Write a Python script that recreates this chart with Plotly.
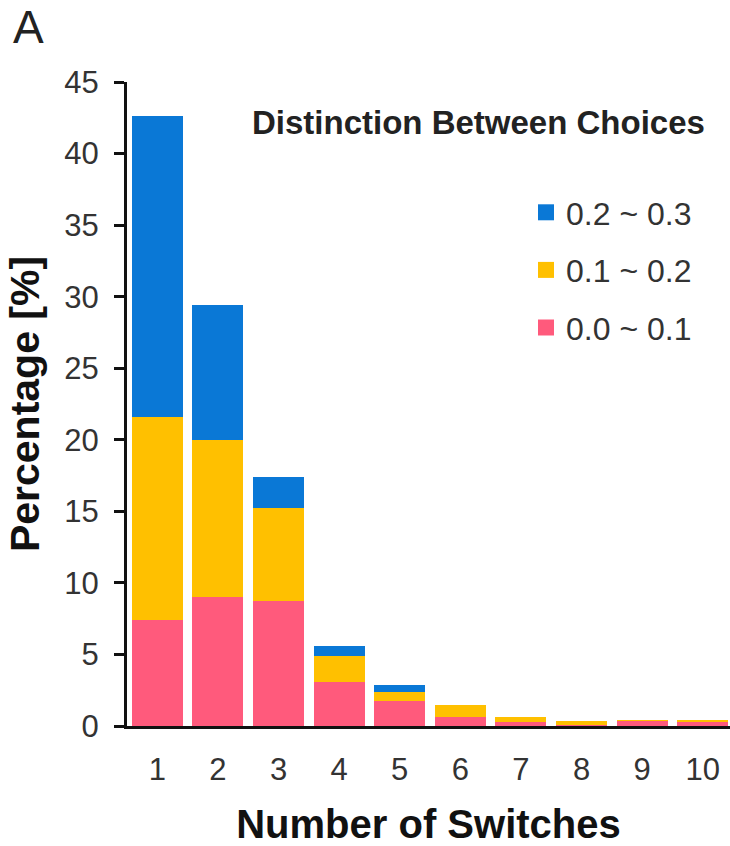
import plotly.graph_objects as go

# Distribution of the number of switches, split by how distinct the two choices were
switches = [1, 2, 3, 4, 5, 6, 7, 8, 9, 10]
tick_labels = ["1", "2", "3", "4", "5", "6", "7", "8", "9", "10"]

pct_low = [7.4, 9.0, 8.75, 3.05, 1.75, 0.6, 0.3, 0.1, 0.35, 0.3]     # 0.0 ~ 0.1
pct_mid = [14.2, 11.0, 6.45, 1.85, 0.65, 0.87, 0.3, 0.25, 0.05, 0.05]  # 0.1 ~ 0.2
pct_high = [21.0, 9.4, 2.2, 0.7, 0.47, 0.0, 0.0, 0.0, 0.0, 0.0]      # 0.2 ~ 0.3

series_names = ["0.0 ~ 0.1", "0.1 ~ 0.2", "0.2 ~ 0.3"]
series_colors = ["#FF5A7C", "#FFC000", "#0A78D6"]

W, H = 730, 846
M_L, M_R, M_T, M_B = 127, 0, 82, 120
FONT = "Liberation Sans, Arial, sans-serif"


def px_x(px):
    return (px - M_L) / (W - M_L - M_R)


def px_y(py):
    return (H - M_B - py) / (H - M_T - M_B)


fig = go.Figure()

for name, vals, color in zip(series_names, [pct_low, pct_mid, pct_high], series_colors):
    fig.add_trace(go.Bar(
        x=switches, y=vals, name=name,
        marker=dict(color=color, line=dict(width=0)),
        showlegend=False,
    ))

# legend entries with larger square swatches, top to bottom: high, mid, low
for name, color in reversed(list(zip(series_names, series_colors))):
    fig.add_trace(go.Scatter(
        x=[None], y=[None], mode="markers", name=name, legendgroup=name,
        marker=dict(symbol="square", size=16, color=color),
    ))

fig.update_layout(
    width=W, height=H,
    margin=dict(l=M_L, r=M_R, t=M_T, b=M_B),
    barmode="stack",
    bargap=0.16,
    plot_bgcolor="white",
    paper_bgcolor="white",
    font=dict(family=FONT, color="#222222"),
    legend=dict(
        x=px_x(526), y=px_y(185), xanchor="left", yanchor="top",
        font=dict(size=32, family=FONT, color="#333333"),
        bgcolor="rgba(0,0,0,0)",
        tracegroupgap=13,
        itemwidth=30,
        traceorder="grouped",
    ),
    xaxis=dict(
        range=[0.5, 10.45],
        tickmode="array", tickvals=switches, ticktext=tick_labels,
        ticks="", showgrid=False, zeroline=False,
        showline=True, linecolor="#111111", linewidth=3,
        tickfont=dict(size=31, family=FONT, color="#333333"),
        ticklabelstandoff=14,
        title=dict(text="<b>Number of Switches</b>", font=dict(size=40, family=FONT, color="#111111"), standoff=25),
    ),
    yaxis=dict(
        range=[0, 45], tickmode="linear", tick0=0, dtick=5,
        ticks="outside", ticklen=10, tickwidth=3, tickcolor="#111111",
        showgrid=False, zeroline=False,
        showline=True, linecolor="#111111", linewidth=3,
        tickfont=dict(size=31, family=FONT, color="#333333"),
        ticklabelstandoff=9,
        title=dict(text="<b>Percentage [%]</b>", font=dict(size=41, family=FONT, color="#111111"), standoff=12),
    ),
    annotations=[
        dict(text="A", x=px_x(11), y=px_y(27), xref="paper", yref="paper",
             xanchor="left", yanchor="middle", showarrow=False,
             font=dict(size=46, family=FONT, color="#222222")),
        dict(text="<b>Distinction Between Choices</b>", x=px_x(478), y=px_y(123),
             xref="paper", yref="paper", xanchor="center", yanchor="middle",
             showarrow=False, font=dict(size=33, family=FONT, color="#222222")),
    ],
)

fig.write_html("out.html")
